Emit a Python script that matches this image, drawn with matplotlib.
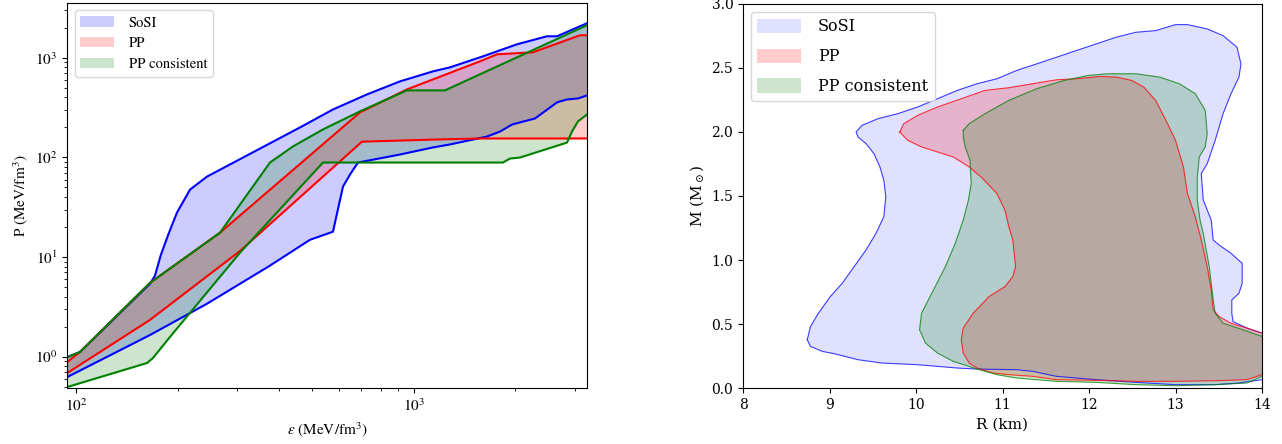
import numpy as np
import matplotlib
matplotlib.use("Agg")
import matplotlib.pyplot as plt

plt.rcParams["font.family"] = "STIXGeneral"
plt.rcParams["mathtext.fontset"] = "stix"

# ---- 左图: EoS 包络, ε (MeV/fm^3) vs P (MeV/fm^3) ----
sosi_up_eps = [94.0, 102.5, 165.3, 171.0, 178.0, 188.0, 198.7, 217.2, 243.9, 460.2, 576.4,
               727.0, 910.8, 1141, 1281, 1605, 2025, 2485, 2661, 3265]
sosi_up_p = [0.99, 1.115, 5.39, 6.5, 10.5, 17.4, 27.9, 47.5, 64.2, 200, 303,
             429, 580, 731, 802, 1035, 1367, 1645, 1645, 2224]
sosi_lo_eps = [94.0, 165.3, 243.9, 372.0, 492.7, 576.4, 617.2, 647.4, 683.7,
               910.8, 1141, 1281, 1649, 1803, 1957, 2289, 2661, 2849, 3070, 3265]
sosi_lo_p = [0.625, 1.65, 3.4, 8.07, 14.9, 17.97, 50.9, 67.3, 88.9,
             107, 126, 135, 162, 182, 214, 246, 357, 382, 391, 419]

pp_up_eps = [94.0, 102.5, 165.3, 266.5, 693.1, 955.4, 1573, 1766, 2258, 3112, 3265]
pp_up_p = [0.884, 1.115, 5.51, 17.56, 283, 482, 922, 1084, 1136, 1684, 1684]
pp_lo_eps = [94.0, 165.3, 305.5, 702.6, 1141, 1573, 3265]
pp_lo_p = [0.686, 2.34, 11.5, 144, 151, 155, 155]

ppc_up_eps = [94.0, 102.5, 165.3, 266.5, 375.0, 438.7, 538.3, 693.1, 955.4, 1238, 3265]
ppc_up_p = [0.99, 1.115, 5.51, 17.56, 88.9, 129, 191, 290, 471, 471, 2123]
ppc_lo_eps = [94.0, 162.0, 168.7, 189.5, 305.5, 538.3, 1840, 1930, 2067, 2849, 2947, 3070, 3265]
ppc_lo_p = [0.496, 0.864, 0.970, 1.58, 11.05, 88.9, 88.9, 97.5, 99.8, 141, 182, 230, 270]

# ---- 右图: M-R 置信区域轮廓, R (km), M (M_sun) ----
sosi_r = [8.743, 8.78, 8.917, 9.055, 9.33, 9.606, 10.018, 10.477, 10.706, 11.165, 11.349,
          11.624, 12.083, 12.541, 13.0, 13.459, 13.734, 14.0, 14.3, 14.3, 14.0, 13.826,
          13.665, 13.651, 13.651, 13.734, 13.771, 13.771, 13.642, 13.505, 13.436, 13.413,
          13.321, 13.298, 13.367, 13.459, 13.550, 13.642, 13.734, 13.757, 13.711, 13.550,
          13.367, 13.138, 13.0, 12.771, 12.541, 12.312, 12.083, 11.853, 11.624, 11.394,
          11.165, 10.936, 10.706, 10.477, 10.248, 10.018, 9.789, 9.560, 9.376, 9.307,
          9.330, 9.422, 9.514, 9.583, 9.628, 9.651, 9.628, 9.537, 9.422, 9.284, 9.147,
          9.009, 8.872, 8.780]
sosi_m = [0.377, 0.325, 0.286, 0.268, 0.221, 0.195, 0.182, 0.156, 0.148, 0.143, 0.130,
          0.091, 0.065, 0.044, 0.026, 0.026, 0.039, 0.065, 0.12, 0.35, 0.429, 0.468,
          0.519, 0.584, 0.688, 0.740, 0.818, 0.974, 1.052, 1.117, 1.156, 1.312,
          1.468, 1.675, 1.753, 1.935, 2.143, 2.299, 2.429, 2.532, 2.662, 2.753,
          2.805, 2.839, 2.839, 2.792, 2.779, 2.740, 2.688, 2.636, 2.584, 2.532,
          2.481, 2.416, 2.377, 2.325, 2.260, 2.195, 2.143, 2.104, 2.052, 2.0,
          1.961, 1.909, 1.831, 1.727, 1.623, 1.494, 1.338, 1.208, 1.078, 0.948, 0.818,
          0.714, 0.584, 0.481]

pp_r = [9.812, 9.858, 10.018, 10.248, 10.523, 10.798, 11.073, 11.394, 11.624, 11.853,
        12.128, 12.312, 12.495, 12.633, 12.771, 12.908, 13.0, 13.092, 13.138, 13.229,
        13.298, 13.367, 13.413, 13.436, 13.505, 13.642, 13.826, 14.0, 14.3, 14.3, 14.0,
        13.826, 13.459, 13.0, 12.541, 12.083, 11.624, 11.349, 11.073, 10.89, 10.706,
        10.615, 10.546, 10.523, 10.546, 10.661, 10.844, 11.028, 11.119, 11.151, 11.119,
        11.073, 11.028, 10.936, 10.752, 10.615, 10.431, 10.248, 10.064, 9.904]
pp_m = [2.0, 2.065, 2.130, 2.195, 2.260, 2.325, 2.346, 2.382, 2.408, 2.416,
        2.434, 2.429, 2.403, 2.351, 2.247, 2.065, 1.935, 1.727, 1.519, 1.338,
        1.156, 0.948, 0.766, 0.610, 0.558, 0.506, 0.468, 0.429, 0.36, 0.08, 0.104,
        0.065, 0.057, 0.052, 0.052, 0.060, 0.065, 0.091, 0.104, 0.117, 0.156,
        0.195, 0.273, 0.377, 0.468, 0.584, 0.714, 0.792, 0.870, 0.948, 1.156,
        1.260, 1.390, 1.519, 1.649, 1.727, 1.805, 1.844, 1.883, 1.935]

ppc_r = [10.546, 10.615, 10.798, 11.073, 11.394, 11.716, 11.991, 12.220, 12.541, 12.817,
         13.046, 13.229, 13.344, 13.367, 13.344, 13.275, 13.252, 13.252, 13.284, 13.321,
         13.390, 13.436, 13.459, 13.550, 13.780, 14.0, 14.3, 14.3, 14.0, 13.826, 13.459,
         13.0, 12.541, 12.083, 11.624, 11.165, 10.936, 10.706, 10.431, 10.248, 10.110,
         10.041, 10.064, 10.202, 10.339, 10.454, 10.546, 10.606, 10.638, 10.624, 10.569,
         10.546]
ppc_m = [2.013, 2.065, 2.143, 2.247, 2.338, 2.403, 2.442, 2.455, 2.455, 2.429,
         2.377, 2.299, 2.169, 1.987, 1.883, 1.805, 1.649, 1.468, 1.312, 1.208,
         0.948, 0.688, 0.584, 0.506, 0.455, 0.403, 0.33, 0.06, 0.091, 0.039, 0.026,
         0.018, 0.026, 0.044, 0.052, 0.078, 0.104, 0.148, 0.208, 0.273, 0.351,
         0.455, 0.584, 0.766, 0.948, 1.130, 1.312, 1.468, 1.597, 1.779, 1.883,
         1.961]


def eos_band(ax, xu, yu, xl, yl, color, label):
    ax.fill(list(xu) + list(xl)[::-1], list(yu) + list(yl)[::-1],
            color=color, alpha=0.2, lw=0, label=label)
    ax.plot(xu, yu, color=color, lw=1.5)
    ax.plot(xl, yl, color=color, lw=1.5)


def mr_region(ax, r, m, color, alpha, label):
    ax.fill(r, m, color=color, alpha=alpha, lw=0, label=label)
    ax.plot(list(r) + [r[0]], list(m) + [m[0]], color=color, lw=0.8, alpha=0.75)


fig = plt.figure(figsize=(12.82, 4.44), dpi=100)
ax1 = fig.add_axes([67.3 / 1282, 1 - 388 / 444, (587 - 67.3) / 1282, (388 - 3) / 444])
ax2 = fig.add_axes([743 / 1282, 1 - 388 / 444, (1262 - 743) / 1282, (388 - 4) / 444])

# 左图
eos_band(ax1, sosi_up_eps, sosi_up_p, sosi_lo_eps, sosi_lo_p, "blue", "SoSI")
eos_band(ax1, pp_up_eps, pp_up_p, pp_lo_eps, pp_lo_p, "red", "PP")
eos_band(ax1, ppc_up_eps, ppc_up_p, ppc_lo_eps, ppc_lo_p, "green", "PP consistent")
ax1.set_xscale("log")
ax1.set_yscale("log")
ax1.set_xlim(94, 3265)
ax1.set_ylim(0.485, 3550)
ax1.set_xlabel(r"$\varepsilon$ (MeV/fm$^3$)", fontsize=11)
ax1.set_ylabel(r"P (MeV/fm$^3$)", fontsize=11)
ax1.tick_params(labelsize=11)
ax1.legend(loc="upper left", fontsize=10.5, handlelength=2.3, labelspacing=0.5,
           handletextpad=1.0)

# 右图
serif = "DejaVu Serif"
mr_region(ax2, sosi_r, sosi_m, "blue", 0.12, "SoSI")
mr_region(ax2, pp_r, pp_m, "red", 0.2, "PP")
mr_region(ax2, ppc_r, ppc_m, "green", 0.2, "PP consistent")
ax2.set_xlim(8, 14)
ax2.set_ylim(0, 3.0)
ax2.set_xticks(np.arange(8, 15, 1))
ax2.set_yticks(np.arange(0, 3.01, 0.5))
ax2.set_xlabel("R (km)", family=serif, fontsize=11)
ax2.set_ylabel(r"M (M$_\odot$)", family=serif, fontsize=11, math_fontfamily="dejavuserif")
for lab in ax2.get_xticklabels() + ax2.get_yticklabels():
    lab.set_fontfamily(serif)
    lab.set_fontsize(10)
ax2.legend(loc="upper left", prop={"family": serif, "size": 11.5}, handlelength=2.7,
           handleheight=1.0, labelspacing=0.8, handletextpad=1.1)

fig.savefig("out.png", dpi=100)
plt.close(fig)
